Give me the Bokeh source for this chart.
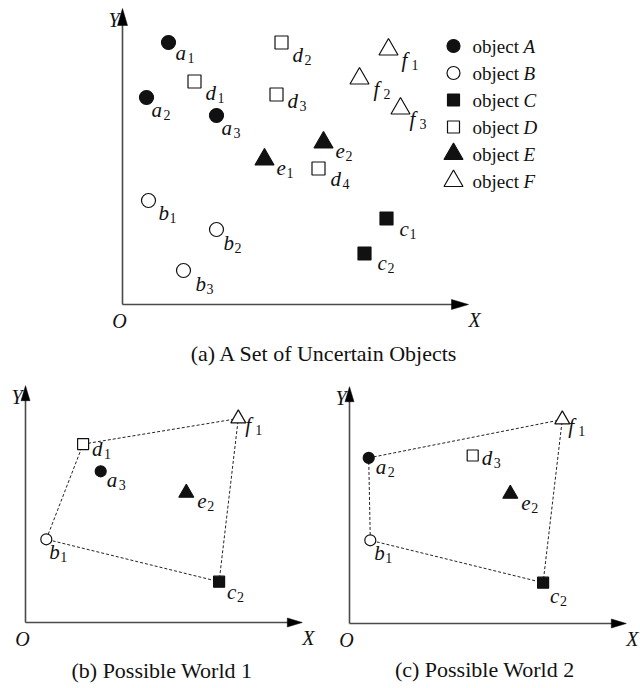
from bokeh.plotting import figure
from bokeh.layouts import column, row
from bokeh.models import ColumnDataSource
from bokeh.core.properties import value
from bokeh.embed import file_html
from bokeh.resources import INLINE

# ---------------- data (shared coordinate units) ----------------
names = ["a1", "a2", "a3", "b1", "b2", "b3", "c1", "c2",
         "d1", "d2", "d3", "d4", "e1", "e2", "f1", "f2", "f3"]
xs = [4.6, 2.4, 9.4, 2.6, 9.4, 6.1, 26.4, 24.2,
      7.2, 15.9, 15.4, 19.6, 14.2, 20.1, 26.6, 23.7, 27.8]
ys = [26.2, 20.7, 18.9, 10.4, 7.5, 3.4, 8.6, 5.1,
      22.3, 26.2, 21.0, 13.6, 14.5, 16.2, 25.5, 22.6, 19.6]
objects = ["A", "B", "C", "D", "E", "F"]
legend_labels = ["object", "object", "object", "object", "object", "object"]

world1_hull = ["d1", "f1", "c2", "b1", "d1"]
world1_points = ["d1", "a3", "e2", "f1", "b1", "c2"]
world2_hull = ["a2", "f1", "c2", "b1", "a2"]
world2_points = ["a2", "d3", "e2", "f1", "b1", "c2"]

captions = ["(a)  A Set of Uncertain Objects", "(b)  Possible World 1", "(c)  Possible World 2"]
axis_x_len = 34.6
axis_y_len = 29.6

# ---------------- styles ----------------
SERIF = value("Liberation Serif")
INK = "#111111"
AXIS = "#4a4a4a"
marker_style = {
    "A": ("circle", True), "B": ("circle", False), "C": ("square", True),
    "D": ("square", False), "E": ("triangle", True), "F": ("triangle", False),
}
sub_shift = {"a": 12, "b": 11, "c": 10, "d": 12, "e": 10, "f": 10}

# label offsets (screen px, middle baseline) for each panel
off_a = {"a1": (7, 10), "d1": (11, 11), "a2": (5, 12), "a3": (5, 12), "d2": (11, 12),
         "d3": (11, 6), "e1": (12, 8), "f1": (13, 10), "f2": (14, 10), "f3": (9, 10),
         "e2": (12, 8), "d4": (12, 10), "b1": (10, 12), "b2": (7, 13), "b3": (12, 13),
         "c1": (13, 10), "c2": (13, 9)}
off_b = {"f1": (7, 6), "b1": (3, 13), "d1": (9, 5), "a3": (6, 9), "e2": (11, 8), "c2": (8, 10)}
off_c = {"f1": (6, 6), "a2": (7, 9), "d3": (9, 2), "e2": (11, 9), "b1": (4, 13), "c2": (7, 13)}

pos = {n: (x, y) for n, x, y in zip(names, xs, ys)}


def make_fig(w, h, xr, yr):
    p = figure(width=w, height=h, x_range=xr, y_range=yr,
               x_axis_location=None, y_axis_location=None,
               toolbar_location=None, output_backend="svg",
               min_border=0, outline_line_color=None,
               background_fill_color="white", border_fill_color="white")
    p.xgrid.visible = False
    p.ygrid.visible = False
    return p


def draw_axes(p, scale, head_len, head_half):
    hx = head_len / scale
    hw = head_half / scale
    p.line([0, axis_x_len - hx * 0.6], [0, 0], line_color=AXIS, line_width=1.6)
    p.line([0, 0], [0, axis_y_len - hx * 0.6], line_color=AXIS, line_width=1.6)
    p.patches([[axis_x_len - hx, axis_x_len, axis_x_len - hx],
               [-hw, 0, hw]],
              [[hw, 0, -hw],
               [axis_y_len - hx, axis_y_len, axis_y_len - hx]],
              fill_color="black", line_color="black", line_width=0.5)
    common = dict(text_font=SERIF, text_font_size="20px", text_font_style="italic",
                  text_baseline="middle", text_color=INK)
    p.text([0], [0], text=["O"], text_align="center", x_offset=-3, y_offset=16, **common)
    p.text([axis_x_len], [0], text=["X"], text_align="center", x_offset=6, y_offset=15, **common)
    p.text([0], [axis_y_len], text=["Y"], text_align="right", x_offset=-3, y_offset=11, **common)


def draw_points(p, pts, offs, sizes):
    for obj in objects:
        sel = [n for n in pts if n[0] == obj.lower()]
        if not sel:
            continue
        mk, filled = marker_style[obj]
        src = ColumnDataSource(dict(x=[pos[n][0] for n in sel], y=[pos[n][1] for n in sel]))
        p.scatter("x", "y", source=src, marker=mk, size=sizes[mk],
                  fill_color=INK if filled else "white", line_color=INK,
                  line_width=1.2)
    lsrc = ColumnDataSource(dict(
        x=[pos[n][0] for n in pts], y=[pos[n][1] for n in pts],
        letter=[n[0] for n in pts], digit=[n[1] for n in pts],
        ox=[offs[n][0] for n in pts],
        oy=[offs[n][1] for n in pts],
        sx=[offs[n][0] + sub_shift[n[0]] for n in pts],
        sy=[offs[n][1] + 5 for n in pts],
    ))
    p.text("x", "y", text="letter", source=lsrc, text_font=SERIF, text_font_size="21px",
           text_font_style="italic", text_baseline="middle", text_align="left",
           x_offset="ox", y_offset="oy", text_color=INK)
    p.text("x", "y", text="digit", source=lsrc, text_font=SERIF, text_font_size="14px",
           text_baseline="middle", text_align="left",
           x_offset="sx", y_offset="sy", text_color=INK)


def draw_hull(p, hull):
    p.line([pos[n][0] for n in hull], [pos[n][1] for n in hull],
           line_color="#222222", line_width=1, line_dash="3 2")


# ---------------- panel (a) ----------------
pa = make_fig(640, 378, (-12.2, 51.8), (-7.4, 30.4))
draw_axes(pa, 10, 17, 5)
draw_points(pa, names, off_a, {"circle": 14, "square": 13, "triangle": 19})
# legend
leg_x = 33.1
leg_y = [25.85 - 2.7 * i for i in range(6)]
for i, obj in enumerate(objects):
    mk, filled = marker_style[obj]
    pa.scatter([leg_x], [leg_y[i]], marker=mk,
               size={"circle": 13, "square": 12, "triangle": 19}[mk],
               fill_color=INK if filled else "white", line_color=INK, line_width=1.2)
lsrc = ColumnDataSource(dict(x=[leg_x] * 6, y=leg_y, t=legend_labels, o=objects))
pa.text("x", "y", text="t", source=lsrc, text_font=SERIF, text_font_size="19px",
        text_baseline="middle", text_align="left", x_offset=19, y_offset=0, text_color=INK)
pa.text("x", "y", text="o", source=lsrc, text_font=SERIF, text_font_size="19px",
        text_font_style="italic", text_baseline="middle", text_align="left",
        x_offset=70, y_offset=0, text_color=INK)
pa.text([20.5], [-4.9], text=[captions[0]], text_font=SERIF, text_font_size="22px",
        text_align="center", text_baseline="middle", text_color=INK)

# ---------------- panel (b) ----------------
pb = make_fig(320, 308, (-3.125, 36.875), (-8.0, 30.5))
draw_axes(pb, 8, 15, 4.5)
draw_hull(pb, world1_hull)
draw_points(pb, world1_points, off_b, {"circle": 11, "square": 11, "triangle": 15})
pb.text([17.4], [-6.0], text=[captions[1]], text_font=SERIF, text_font_size="22px",
        text_align="center", text_baseline="middle", text_color=INK)

# ---------------- panel (c) ----------------
pc = make_fig(320, 308, (-3.625, 36.375), (-7.875, 30.625))
draw_axes(pc, 8, 15, 4.5)
draw_hull(pc, world2_hull)
draw_points(pc, world2_points, off_c, {"circle": 11, "square": 11, "triangle": 15})
pc.text([17.25], [-5.75], text=[captions[2]], text_font=SERIF, text_font_size="22px",
        text_align="center", text_baseline="middle", text_color=INK)

layout = column(pa, row(pb, pc, spacing=0), spacing=0)
open("out.html", "w").write(file_html(layout, INLINE))
